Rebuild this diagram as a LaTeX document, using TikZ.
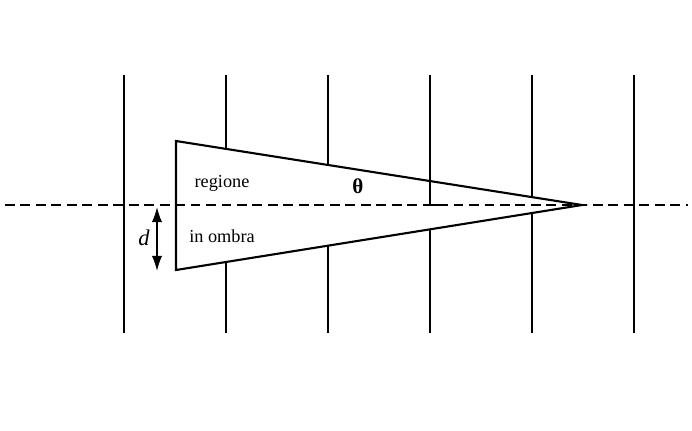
\documentclass[tikz,border=0pt]{standalone}
\usepackage{fontspec}
\setmainfont{Liberation Serif}
\usetikzlibrary{arrows.meta, calc}
\tikzset{
  every picture/.style={line width=0.9pt},
  wall/.style={draw=black, line width=1pt},
  axis/.style={draw=black, line width=1.1pt, dash pattern=on 7pt off 4pt},
  edge/.style={draw=black, line width=1.5pt},
  dim/.style={{Latex[length=3.8mm,width=2.6mm]}-{Latex[length=3.8mm,width=2.6mm]}, line width=1.1pt},
  label/.style={font=\fontsize{13}{15}\selectfont, inner sep=1pt},
}
\begin{document}
\begin{tikzpicture}[x=0.025cm, y=0.025cm]
  \useasboundingbox (0,-225) rectangle (692,205);
  % vertical lines
  \foreach \x [count=\k] in {124,226,328,430,532,634} {
    \coordinate (top\k) at (\x,130);
    \coordinate (bot\k) at (\x,-128);
    \draw[wall] (top\k) -- (bot\k);
  }
  % shadow region
  \coordinate (A) at (176,64);
  \coordinate (B) at (176,-65);
  \coordinate (C) at (582,0);
  \fill[white] (A) -- (C) -- (B) -- cycle;
  % axis
  \coordinate (L) at (5,0);
  \coordinate (R) at (688,0);
  \draw[axis] (L) -- (R);
  \draw[edge] (A) -- (C) -- (B) -- cycle;
  % right angle mark
  \coordinate (m1) at ($(A)!0.6256!(C)$);
  \coordinate (m2) at (430,0);
  \coordinate (m3) at (438,0);
  \draw[wall, line width=1.3pt] (m1) -- (m2) -- (m3);
  % labels
  \node[label] (reg) at (222,22) {regione};
  \node[label] (omb) at (222,-31) {in ombra};
  \node[label, font=\fontsize{15}{17}\selectfont\bfseries] (th) at (358,19) {θ};
  \coordinate (d1) at (157,-2);
  \coordinate (d2) at (157,-66);
  \draw[dim] (d1) -- (d2);
  \node[label, font=\fontsize{16}{18}\selectfont] (dl) at (144,-33) {\textit{d}};
\end{tikzpicture}
\end{document}
